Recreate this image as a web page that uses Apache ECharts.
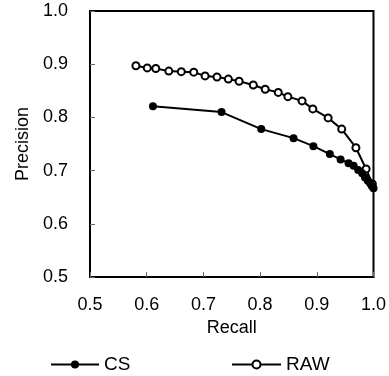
<!DOCTYPE html>
<html><head><meta charset="utf-8">
<script src="https://cdn.jsdelivr.net/npm/echarts@6/dist/echarts.min.js"></script>
<style>html,body{margin:0;padding:0;background:#fff}#c{width:389px;height:376px}</style>
</head><body><div id="c"></div>
<script>
const csRecall = [0.611,0.732,0.802,0.859,0.894,0.923,0.942,0.956,0.965,0.973,0.980,0.985,0.990,0.994,0.997,1.000];
const csPrecision = [0.821,0.810,0.778,0.761,0.746,0.731,0.721,0.714,0.709,0.701,0.695,0.687,0.681,0.676,0.671,0.667];
const rawRecall = [0.581,0.601,0.616,0.639,0.661,0.683,0.703,0.724,0.744,0.763,0.788,0.809,0.832,0.849,0.874,0.893,0.920,0.944,0.969,0.987,0.998];
const rawPrecision = [0.897,0.893,0.892,0.887,0.886,0.885,0.878,0.876,0.872,0.868,0.861,0.853,0.847,0.839,0.831,0.816,0.799,0.778,0.743,0.703,0.675];
const xTicks = {min:0.5,max:1.0,interval:0.1};
const yTicks = {min:0.5,max:1.0,interval:0.1};
const font = '"Liberation Sans", Arial, sans-serif';
const fs = 18;
const chart = echarts.init(document.getElementById('c'), null, {renderer:'canvas'});
const zip = (a,b)=>a.map((v,i)=>[v,b[i]]);
chart.setOption({
  animation:false,
  grid:{left:90,right:15.5,top:11,bottom:99,show:true,borderColor:'#000',borderWidth:2},
  xAxis:{type:'value',min:xTicks.min,max:xTicks.max,interval:xTicks.interval,
    name:'Recall',nameLocation:'middle',nameGap:41,nameTextStyle:{color:'#000',fontSize:fs,fontFamily:font},
    axisLine:{lineStyle:{color:'#000',width:2}},axisTick:{inside:true,length:5,lineStyle:{color:'#666',width:1}},
    axisLabel:{color:'#000',fontSize:fs,fontFamily:font,margin:19,formatter:v=>v.toFixed(1)},splitLine:{show:false}},
  yAxis:{type:'value',min:yTicks.min,max:yTicks.max,interval:yTicks.interval,
    name:'Precision',nameLocation:'middle',nameGap:57,nameTextStyle:{color:'#000',fontSize:fs,fontFamily:font},
    axisLine:{lineStyle:{color:'#000',width:2}},axisTick:{inside:true,length:5,lineStyle:{color:'#666',width:1}},
    axisLabel:{color:'#000',fontSize:fs,fontFamily:font,margin:22,formatter:v=>v.toFixed(1)},splitLine:{show:false}},
  legend:[
    {data:['RAW'],left:226,top:350,itemWidth:49,itemHeight:10,itemGap:6,textStyle:{color:'#000',fontSize:fs+1,fontFamily:font}},
    {data:['CS'],left:45,top:350,itemWidth:48,itemHeight:10,itemGap:6,textStyle:{color:'#000',fontSize:fs+1,fontFamily:font}}
  ],
  series:[
    {name:'RAW',type:'line',data:zip(rawRecall,rawPrecision),symbol:'circle',symbolSize:7,
      itemStyle:{color:'#fff',borderColor:'#000',borderWidth:2},lineStyle:{color:'#000',width:2}},
    {name:'CS',type:'line',data:zip(csRecall,csPrecision),symbol:'circle',symbolSize:8,
      itemStyle:{color:'#000',borderColor:'#000',borderWidth:0},lineStyle:{color:'#000',width:2}}
  ]
});
</script></body></html>
